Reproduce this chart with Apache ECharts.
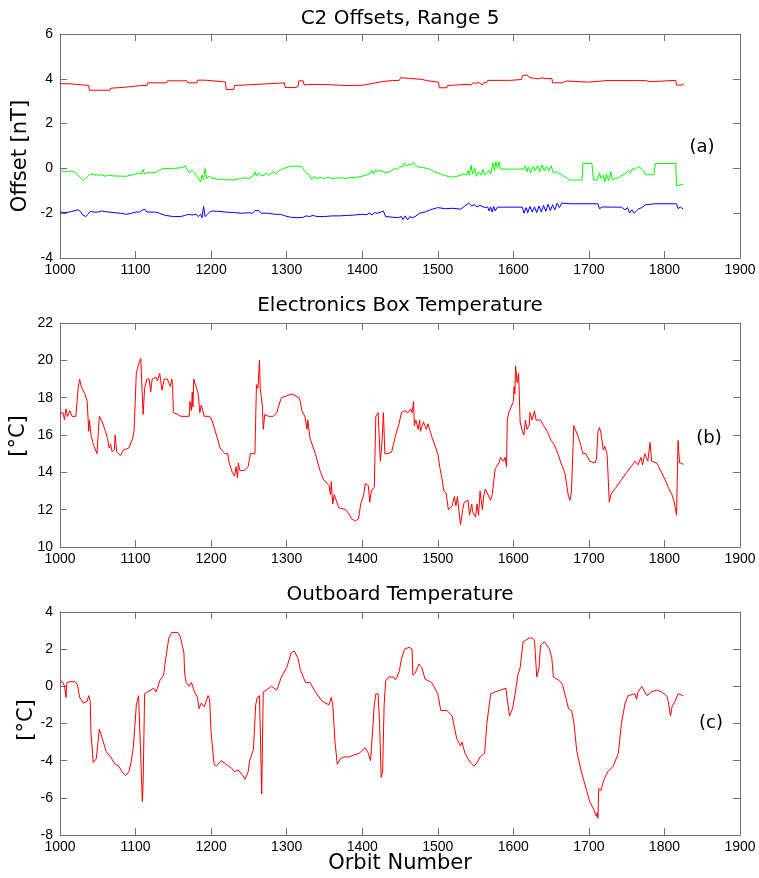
<!DOCTYPE html>
<html>
<head>
<meta charset="utf-8">
<script src="https://cdn.jsdelivr.net/npm/echarts@6/dist/echarts.min.js"></script>
<style>html,body{margin:0;padding:0;background:#fff}#c{width:759px;height:878px}</style>
</head>
<body>
<div id="c"></div>
<script>
// ---------- Data ----------
const xTicks = [1000, 1100, 1200, 1300, 1400, 1500, 1600, 1700, 1800, 1900];
const panelTitles = ['C2 Offsets, Range 5', 'Electronics Box Temperature', 'Outboard Temperature'];
const panelTags = ['(a)', '(b)', '(c)'];
const yNames = ['Offset [nT]', '[°C]', '[°C]'];
const xName = 'Orbit Number';
const yRanges = [[-4, 6, 2], [10, 22, 2], [-8, 4, 2]];

const offsetRed = [[1000,3.78],[1012,3.78],[1013,3.7],[1038,3.7],[1039,3.49],[1066,3.49],[1067,3.58],[1085,3.62],[1107,3.7],[1115,3.7],[1116,3.82],[1141,3.82],[1142,3.91],[1168,3.91],[1169,3.82],[1181,3.82],[1182,3.94],[1192,3.94],[1193,3.86],[1219,3.86],[1220,3.52],[1230,3.52],[1231,3.7],[1260,3.75],[1289,3.8],[1290,3.82],[1297,3.82],[1298,3.61],[1311,3.61],[1312,3.65],[1315,3.65],[1316,3.91],[1322,3.91],[1323,3.73],[1340,3.75],[1360,3.73],[1380,3.7],[1400,3.71],[1415,3.8],[1427,3.88],[1440,3.92],[1449,3.93],[1451,4.05],[1453,3.97],[1480,3.97],[1485,3.92],[1486,3.85],[1501,3.85],[1502,3.6],[1512,3.6],[1513,3.7],[1523,3.72],[1540,3.75],[1542,3.82],[1544,3.72],[1547,3.83],[1550,3.78],[1553,3.85],[1556,3.8],[1559,3.72],[1561,3.84],[1565,3.84],[1566,3.93],[1596,3.93],[1597,3.97],[1611,3.97],[1612,4.15],[1618,4.17],[1622,4.05],[1628,4.02],[1630,4.06],[1633,4.0],[1638,4.04],[1642,4.01],[1651,4.01],[1652,3.82],[1664,3.82],[1665,3.9],[1670,3.9],[1671,3.85],[1700,3.85],[1701,3.92],[1720,3.91],[1722,3.87],[1724,3.92],[1760,3.92],[1775,3.92],[1777,3.86],[1781,3.87],[1782,3.93],[1815,3.93],[1816,3.72],[1824,3.72],[1825,3.8]];

const offsetGreen = [[1000,-0.1],[1005,-0.12],[1010,-0.15],[1015,-0.12],[1020,-0.18],[1024,-0.3],[1028,-0.45],[1031,-0.55],[1034,-0.45],[1037,-0.35],[1040,-0.25],[1045,-0.28],[1050,-0.3],[1055,-0.28],[1060,-0.35],[1065,-0.3],[1070,-0.33],[1080,-0.35],[1088,-0.35],[1094,-0.3],[1100,-0.25],[1104,-0.2],[1108,-0.25],[1110,-0.05],[1112,-0.25],[1116,-0.18],[1120,-0.2],[1126,-0.18],[1130,-0.1],[1135,-0.02],[1140,0.0],[1150,0.0],[1158,0.02],[1163,0.05],[1166,0.12],[1168,-0.05],[1171,-0.2],[1174,-0.08],[1177,-0.15],[1180,-0.3],[1183,-0.45],[1186,-0.6],[1188,-0.3],[1190,-0.5],[1192,0.0],[1194,-0.45],[1197,-0.35],[1200,-0.42],[1205,-0.45],[1210,-0.5],[1215,-0.48],[1220,-0.52],[1225,-0.5],[1230,-0.52],[1235,-0.48],[1240,-0.45],[1245,-0.42],[1250,-0.45],[1255,-0.35],[1258,-0.15],[1260,-0.35],[1262,-0.2],[1265,-0.3],[1270,-0.32],[1273,-0.2],[1276,-0.3],[1280,-0.22],[1283,-0.15],[1286,-0.25],[1290,-0.1],[1293,-0.05],[1296,0.0],[1298,0.08],[1305,0.1],[1315,0.1],[1320,0.08],[1323,-0.1],[1326,-0.2],[1330,-0.3],[1333,-0.5],[1336,-0.35],[1340,-0.45],[1345,-0.4],[1350,-0.45],[1355,-0.4],[1360,-0.45],[1370,-0.42],[1380,-0.45],[1385,-0.4],[1390,-0.42],[1395,-0.38],[1400,-0.35],[1405,-0.3],[1410,-0.25],[1413,-0.1],[1415,-0.25],[1418,-0.05],[1420,-0.15],[1423,-0.08],[1428,-0.15],[1433,-0.2],[1438,-0.12],[1443,0.0],[1446,-0.05],[1450,0.1],[1453,0.05],[1456,0.22],[1459,0.1],[1462,0.2],[1465,0.15],[1468,0.27],[1471,0.12],[1475,0.05],[1480,0.05],[1485,0.0],[1490,-0.05],[1495,-0.15],[1500,-0.2],[1505,-0.28],[1510,-0.32],[1516,-0.38],[1522,-0.38],[1528,-0.33],[1534,-0.25],[1538,-0.3],[1540,-0.1],[1542,-0.3],[1544,0.15],[1546,-0.25],[1549,0.0],[1551,-0.35],[1554,-0.15],[1557,-0.3],[1560,-0.05],[1562,-0.3],[1565,-0.2],[1568,-0.1],[1570,-0.25],[1573,0.25],[1575,-0.1],[1577,0.3],[1579,0.0],[1581,0.3],[1583,-0.03],[1600,-0.03],[1614,-0.03],[1616,0.12],[1618,-0.15],[1620,0.05],[1623,-0.2],[1626,0.08],[1629,-0.1],[1632,0.12],[1635,-0.15],[1638,0.15],[1641,-0.12],[1644,0.1],[1647,-0.1],[1650,0.12],[1653,-0.2],[1656,-0.15],[1665,-0.3],[1675,-0.52],[1691,-0.52],[1692,0.22],[1704,0.22],[1706,-0.52],[1711,-0.52],[1714,-0.2],[1716,-0.45],[1719,-0.3],[1721,-0.6],[1723,-0.25],[1726,-0.55],[1729,-0.15],[1731,-0.5],[1735,-0.45],[1740,-0.4],[1744,-0.3],[1748,-0.25],[1752,-0.1],[1755,-0.2],[1758,0.0],[1761,-0.05],[1765,0.09],[1769,0.0],[1772,-0.1],[1775,-0.28],[1786,-0.28],[1788,0.22],[1815,0.22],[1816,-0.78],[1823,-0.72],[1825,-0.7]];

const offsetBlue = [[1000,-1.95],[1008,-1.97],[1015,-1.93],[1020,-1.88],[1024,-1.85],[1027,-1.92],[1030,-2.08],[1034,-2.15],[1037,-2.05],[1040,-1.92],[1045,-1.95],[1050,-1.95],[1055,-1.9],[1060,-1.93],[1070,-1.97],[1080,-2.0],[1088,-2.05],[1095,-2.0],[1100,-1.95],[1105,-1.95],[1108,-1.88],[1110,-1.95],[1112,-1.82],[1115,-1.95],[1125,-1.95],[1130,-1.98],[1135,-2.05],[1140,-2.1],[1150,-2.15],[1160,-2.15],[1165,-2.1],[1170,-2.05],[1175,-2.08],[1180,-2.05],[1183,-2.15],[1186,-2.05],[1188,-2.2],[1190,-1.7],[1192,-2.15],[1195,-2.05],[1198,-1.95],[1202,-1.9],[1210,-1.92],[1220,-1.95],[1230,-1.97],[1240,-2.0],[1250,-1.98],[1255,-2.0],[1258,-1.88],[1260,-1.95],[1263,-1.88],[1266,-2.0],[1275,-2.0],[1285,-2.05],[1292,-2.05],[1298,-2.12],[1305,-2.18],[1315,-2.2],[1322,-2.18],[1326,-2.12],[1330,-2.15],[1335,-2.1],[1340,-2.15],[1350,-2.15],[1360,-2.12],[1370,-2.12],[1380,-2.1],[1390,-2.08],[1400,-2.05],[1405,-2.07],[1410,-2.0],[1413,-2.08],[1416,-1.98],[1420,-2.0],[1425,-1.95],[1428,-1.9],[1431,-2.15],[1440,-2.18],[1448,-2.2],[1452,-2.15],[1454,-2.28],[1457,-2.12],[1460,-2.3],[1463,-2.15],[1466,-2.2],[1470,-2.15],[1476,-2.0],[1483,-1.95],[1490,-1.85],[1500,-1.75],[1510,-1.8],[1520,-1.78],[1530,-1.82],[1535,-1.7],[1541,-1.55],[1545,-1.68],[1548,-1.62],[1552,-1.72],[1556,-1.65],[1562,-1.75],[1566,-1.72],[1568,-1.9],[1570,-1.72],[1572,-1.95],[1574,-1.7],[1576,-1.9],[1579,-1.73],[1612,-1.73],[1614,-2.0],[1617,-1.75],[1619,-1.98],[1622,-1.7],[1625,-1.95],[1628,-1.72],[1631,-1.98],[1634,-1.68],[1637,-1.95],[1640,-1.65],[1643,-1.92],[1646,-1.6],[1649,-1.88],[1652,-1.62],[1655,-1.85],[1658,-1.55],[1661,-1.75],[1664,-1.55],[1676,-1.58],[1712,-1.58],[1714,-1.8],[1718,-1.72],[1730,-1.73],[1743,-1.73],[1748,-1.85],[1751,-1.75],[1754,-1.98],[1757,-1.85],[1760,-2.0],[1763,-1.9],[1766,-1.8],[1770,-1.75],[1775,-1.62],[1788,-1.58],[1816,-1.58],[1818,-1.8],[1821,-1.72],[1825,-1.82]];

const elecBoxTemp = [[1000,17.15],[1004,17.2],[1006,16.8],[1008,17.4],[1010,17.0],[1013,17.3],[1016,17.0],[1021,17.0],[1024,18.5],[1026,19.0],[1028,18.6],[1033,18.2],[1036,17.8],[1038,16.2],[1039,16.8],[1041,16.0],[1044,15.5],[1049,15.0],[1052,17.0],[1056,16.7],[1060,16.2],[1063,15.8],[1065,15.3],[1067,15.5],[1069,15.1],[1072,15.2],[1073,16.0],[1075,15.1],[1080,14.9],[1084,15.2],[1091,15.3],[1096,15.8],[1098,16.2],[1100,16.3],[1101,19.3],[1104,19.8],[1107,20.1],[1108,19.0],[1110,17.1],[1112,18.5],[1115,19.0],[1118,19.0],[1120,18.3],[1122,19.0],[1127,19.1],[1129,18.9],[1132,19.3],[1135,18.4],[1138,19.0],[1142,19.0],[1144,18.9],[1146,18.6],[1148,19.0],[1149,18.7],[1150,17.2],[1156,17.1],[1160,17.0],[1171,17.0],[1172,17.8],[1174,17.3],[1175,18.3],[1176,17.5],[1177,19.0],[1180,18.6],[1183,18.2],[1185,17.2],[1187,17.6],[1189,17.3],[1191,17.0],[1198,17.0],[1201,16.8],[1207,16.0],[1212,15.3],[1218,15.0],[1222,15.0],[1224,14.5],[1228,14.0],[1231,13.8],[1233,14.3],[1235,13.7],[1236,14.5],[1238,14.1],[1244,14.1],[1249,14.3],[1252,15.0],[1258,15.0],[1260,18.7],[1262,18.5],[1264,20.0],[1265,18.5],[1268,17.5],[1269,16.3],[1271,17.1],[1276,17.0],[1282,17.0],[1287,17.2],[1289,17.5],[1293,18.0],[1300,18.1],[1307,18.2],[1316,18.0],[1318,17.8],[1320,17.3],[1324,17.0],[1327,16.3],[1328,16.8],[1331,15.8],[1338,15.0],[1344,14.1],[1349,13.6],[1356,13.3],[1358,12.8],[1359,13.5],[1361,12.3],[1363,12.8],[1369,12.1],[1378,12.0],[1382,11.8],[1386,11.5],[1391,11.4],[1395,11.5],[1398,12.3],[1402,12.8],[1404,13.4],[1408,13.3],[1410,12.4],[1412,13.0],[1416,13.2],[1418,17.0],[1421,17.2],[1424,14.6],[1426,15.5],[1428,17.2],[1430,15.0],[1434,15.0],[1439,15.1],[1443,15.8],[1445,16.1],[1448,16.5],[1450,16.6],[1452,17.2],[1456,17.3],[1461,17.2],[1464,17.4],[1466,17.2],[1468,17.8],[1469,16.5],[1471,16.8],[1474,16.3],[1476,16.8],[1477,16.2],[1481,16.7],[1485,16.3],[1487,16.6],[1493,15.8],[1500,15.0],[1503,14.2],[1505,13.8],[1508,13.0],[1511,12.9],[1514,12.0],[1519,12.2],[1522,12.7],[1524,12.2],[1526,12.7],[1530,11.2],[1533,12.0],[1535,12.4],[1540,12.5],[1542,11.7],[1545,12.3],[1546,11.9],[1550,11.6],[1552,12.3],[1554,11.7],[1556,13.0],[1559,12.0],[1561,12.8],[1563,13.1],[1565,13.2],[1570,12.5],[1572,12.8],[1574,13.5],[1576,14.2],[1581,14.5],[1583,14.8],[1587,14.6],[1589,14.8],[1591,14.3],[1592,16.8],[1594,17.2],[1597,17.5],[1600,17.8],[1601,18.6],[1602,18.2],[1603,19.7],[1605,18.8],[1607,19.3],[1609,16.7],[1612,16.2],[1614,16.0],[1616,16.8],[1618,16.3],[1621,16.5],[1622,17.2],[1625,16.8],[1628,17.3],[1630,16.8],[1636,16.8],[1640,16.5],[1645,16.2],[1650,15.7],[1654,15.5],[1659,15.0],[1663,14.5],[1668,14.0],[1670,13.5],[1673,12.7],[1675,12.5],[1677,13.0],[1680,16.5],[1683,16.2],[1685,16.0],[1689,15.5],[1692,15.0],[1696,15.0],[1701,14.6],[1708,14.5],[1710,14.7],[1712,16.2],[1714,16.4],[1716,16.1],[1719,15.2],[1721,15.4],[1724,15.0],[1725,14.2],[1727,12.4],[1729,12.8],[1732,13.0],[1736,13.2],[1743,13.6],[1750,14.0],[1756,14.3],[1761,14.6],[1765,14.4],[1769,14.8],[1771,14.4],[1774,15.0],[1776,14.8],[1778,14.6],[1781,15.6],[1783,14.6],[1790,14.5],[1796,14.0],[1801,13.6],[1805,13.2],[1810,12.8],[1813,12.4],[1816,11.7],[1818,15.7],[1820,14.5],[1823,14.5],[1825,14.4]];

const outboardTemp = [[1000,0.3],[1004,0.2],[1006,0.0],[1008,-0.6],[1009,0.2],[1013,0.25],[1020,0.25],[1023,0.1],[1026,-0.6],[1031,-0.9],[1033,-1.0],[1036,-0.8],[1038,-0.5],[1040,-0.8],[1041,-2.5],[1044,-4.1],[1048,-3.9],[1050,-4.0],[1052,-2.3],[1056,-2.8],[1061,-3.5],[1067,-3.8],[1073,-4.2],[1078,-4.3],[1082,-4.6],[1087,-4.8],[1091,-4.6],[1094,-4.1],[1097,-3.3],[1099,-2.2],[1101,-1.0],[1104,-0.5],[1106,-0.5],[1109,-6.2],[1110,-5.3],[1112,-0.4],[1116,-0.3],[1124,-0.1],[1127,-0.3],[1129,-0.1],[1131,-0.2],[1132,0.3],[1137,0.6],[1140,1.5],[1144,2.6],[1148,2.9],[1156,2.9],[1159,2.7],[1164,1.8],[1165,0.7],[1167,0.2],[1169,0.3],[1171,0.0],[1174,0.2],[1178,-0.3],[1182,-0.6],[1184,-1.2],[1187,-0.9],[1191,-1.1],[1193,-1.0],[1196,-0.5],[1198,-0.7],[1200,-2.5],[1204,-4.2],[1207,-4.3],[1213,-4.0],[1220,-4.2],[1227,-4.4],[1231,-4.6],[1236,-4.5],[1242,-4.8],[1245,-5.0],[1249,-4.6],[1251,-4.0],[1256,-3.4],[1259,-1.0],[1261,-0.6],[1264,-0.5],[1267,-5.8],[1269,-0.3],[1273,-0.2],[1280,0.0],[1287,-0.2],[1293,0.5],[1300,1.0],[1306,1.8],[1310,1.9],[1315,1.5],[1318,0.9],[1322,0.5],[1325,0.2],[1331,0.2],[1338,-0.3],[1347,-0.8],[1356,-1.0],[1359,-0.6],[1361,-1.0],[1364,-3.0],[1367,-4.2],[1371,-3.9],[1376,-3.8],[1382,-3.8],[1396,-3.6],[1404,-3.3],[1408,-3.6],[1411,-4.0],[1416,-1.0],[1418,-0.4],[1421,-0.4],[1423,-2.0],[1425,-4.9],[1427,-4.6],[1429,-1.0],[1431,0.3],[1435,0.5],[1441,0.5],[1444,0.35],[1446,0.5],[1449,0.8],[1452,1.5],[1456,2.0],[1462,2.1],[1466,2.0],[1467,0.6],[1470,0.7],[1475,1.2],[1479,1.0],[1483,0.4],[1492,0.2],[1500,-0.4],[1504,-1.3],[1512,-1.3],[1519,-1.6],[1525,-2.8],[1530,-3.2],[1532,-3.0],[1536,-3.6],[1543,-4.1],[1548,-4.3],[1552,-4.1],[1556,-3.8],[1558,-3.9],[1562,-3.6],[1565,-2.0],[1570,-0.4],[1576,-0.3],[1583,-0.2],[1590,-0.1],[1595,-1.6],[1599,-1.2],[1602,-0.5],[1606,0.6],[1609,1.0],[1613,2.4],[1621,2.6],[1625,2.6],[1628,2.5],[1631,0.5],[1634,1.0],[1636,2.2],[1641,2.4],[1648,2.0],[1651,1.5],[1653,0.5],[1661,0.3],[1665,0.1],[1670,-0.7],[1673,-1.2],[1677,-1.3],[1680,-1.9],[1684,-3.5],[1690,-4.6],[1697,-5.6],[1701,-6.2],[1706,-6.6],[1710,-7.0],[1711,-6.8],[1712,-7.1],[1713,-5.5],[1716,-5.6],[1720,-5.0],[1725,-4.6],[1732,-4.3],[1739,-3.6],[1743,-2.0],[1748,-0.9],[1752,-0.5],[1761,-0.4],[1763,-0.7],[1765,-0.3],[1770,0.0],[1774,-0.3],[1777,-0.5],[1783,-0.3],[1790,-0.2],[1796,-0.3],[1803,-0.5],[1805,-0.8],[1808,-1.6],[1810,-1.1],[1812,-1.2],[1814,-0.8],[1816,-0.9],[1818,-0.4],[1825,-0.5]];

// ---------- Layout / style ----------
const chart = echarts.init(document.getElementById('c'), null, {renderer: 'canvas'});
const axisColor = '#707070';
const tickFont = {fontFamily: '"Liberation Sans", Arial, sans-serif', fontSize: 14, color: '#000'};
const grids = [
  {left: 60, top: 34, width: 680, height: 224},
  {left: 60, top: 323, width: 680, height: 224},
  {left: 60, top: 612, width: 680, height: 223}
];
const plainNum = v => String(v);
const xAxes = [], yAxes = [];
grids.forEach((g, i) => {
  const base = {
    type: 'value', gridIndex: i, min: xTicks[0], max: xTicks[xTicks.length - 1], interval: xTicks[1] - xTicks[0],
    axisLine: {show: true, onZero: false, lineStyle: {color: axisColor, width: 1}},
    axisTick: {show: true, inside: true, length: 7, lineStyle: {color: axisColor}},
    splitLine: {show: false}
  };
  xAxes.push(Object.assign({}, base, {position: 'bottom',
    axisLabel: Object.assign({show: true, margin: 5, showMinLabel: true, showMaxLabel: true, formatter: plainNum}, tickFont)}));
  xAxes.push(Object.assign({}, base, {position: 'top', axisLabel: {show: false}}));
  const r = yRanges[i];
  const ybase = {
    type: 'value', gridIndex: i, min: r[0], max: r[1], interval: r[2],
    axisLine: {show: true, onZero: false, lineStyle: {color: axisColor, width: 1}},
    axisTick: {show: true, inside: true, length: 7, lineStyle: {color: axisColor}},
    splitLine: {show: false}
  };
  yAxes.push(Object.assign({}, ybase, {position: 'left',
    axisLabel: Object.assign({show: true, margin: 7, showMinLabel: true, showMaxLabel: true, formatter: plainNum}, tickFont)}));
  yAxes.push(Object.assign({}, ybase, {position: 'right', axisLabel: {show: false}}));
});

function line(data, color, gi) {
  return {type: 'line', data: data, xAxisIndex: gi * 2, yAxisIndex: gi * 2,
    showSymbol: false, symbol: 'none', animation: false,
    lineStyle: {color: color, width: 1}, itemStyle: {color: color}};
}

const dejavu = '"DejaVu Sans", Verdana, sans-serif';
const titleY = [19, 306, 595];
const tagPos = [[702, 147], [709, 438], [711, 723]];
const yNamePos = [[21, 156], [19, 436], [27, 720]];
const graphics = [];
panelTitles.forEach((t, i) => {
  graphics.push({type: 'text', x: 400, y: titleY[i],
    style: {text: t, font: '20px ' + dejavu, fill: '#000', textAlign: 'center', textVerticalAlign: 'middle'}});
  graphics.push({type: 'text', x: tagPos[i][0], y: tagPos[i][1],
    style: {text: panelTags[i], font: '18px ' + dejavu, fill: '#000', textAlign: 'center', textVerticalAlign: 'middle'}});
  graphics.push({type: 'text', x: yNamePos[i][0], y: yNamePos[i][1], rotation: Math.PI / 2,
    style: {text: yNames[i], font: '21px ' + dejavu, fill: '#000', textAlign: 'center', textVerticalAlign: 'middle'}});
});
graphics.push({type: 'text', x: 400, y: 864,
  style: {text: xName, font: '21px ' + dejavu, fill: '#000', textAlign: 'center', textVerticalAlign: 'middle'}});

chart.setOption({
  animation: false,
  backgroundColor: '#fff',
  grid: grids,
  xAxis: xAxes,
  yAxis: yAxes,
  series: [
    line(offsetRed, '#ff0000', 0),
    line(offsetGreen, '#00ff00', 0),
    line(offsetBlue, '#0000ff', 0),
    line(elecBoxTemp, '#ff0000', 1),
    line(outboardTemp, '#ff0000', 2)
  ],
  graphic: graphics
});
</script>
</body>
</html>
